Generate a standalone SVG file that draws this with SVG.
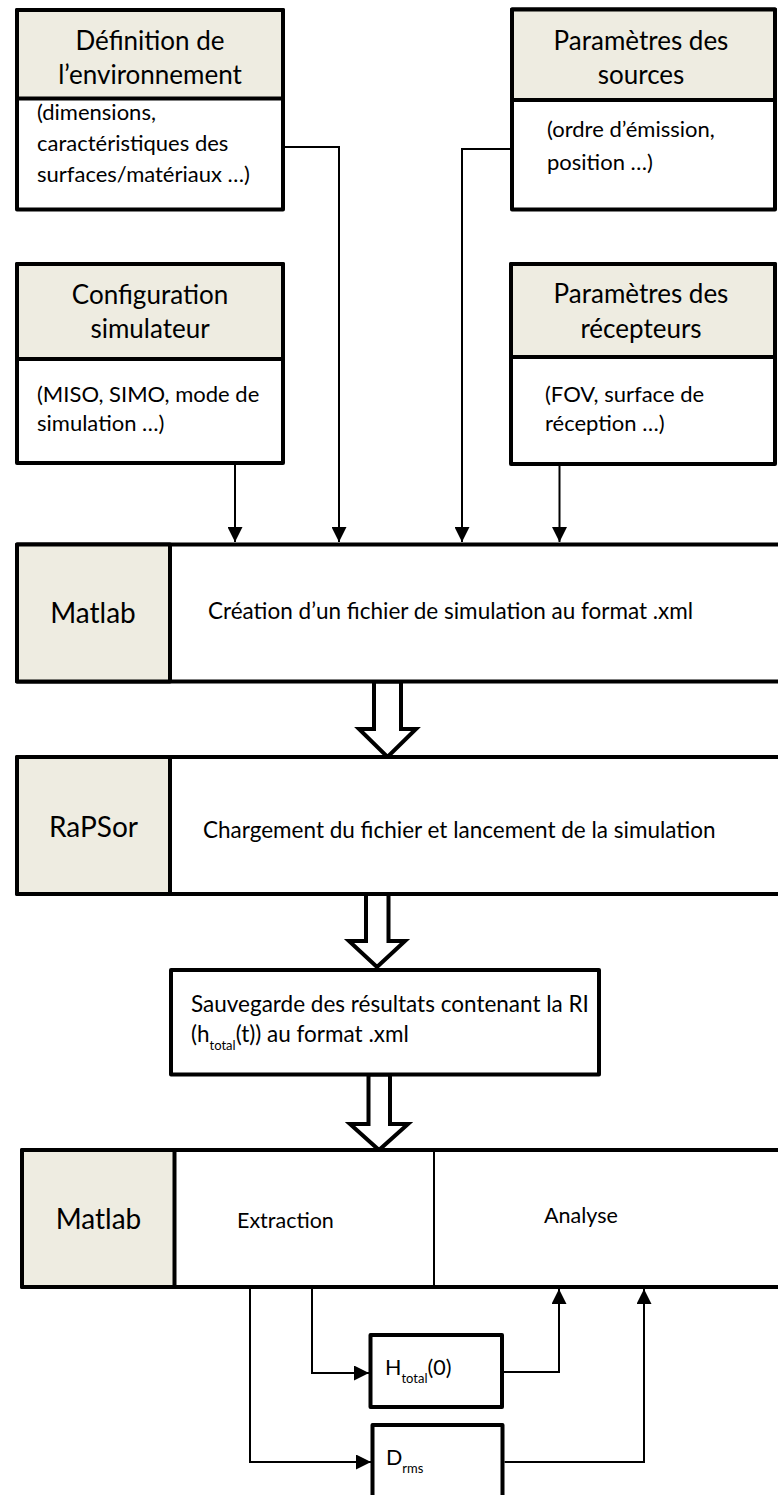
<svg xmlns="http://www.w3.org/2000/svg" width="778" height="1495" viewBox="0 0 778 1495">
<defs>
<style>
.box{fill:#fff;stroke:#000;stroke-width:4;stroke-linejoin:round}
.hdr{fill:#EEECE1;stroke:#000;stroke-width:4;stroke-linejoin:round}
.ln{fill:none;stroke:#000;stroke-width:2}
.hollow{fill:#fff;stroke:#000;stroke-width:4;stroke-linejoin:miter}
.div{stroke:#000;stroke-width:2}
text{font-family:Lato,"Liberation Sans",sans-serif;fill:#000}
.h{font-size:26px;text-anchor:middle}
.b{font-size:22px}
.m{font-size:22.5px}
.n{font-size:21.5px}
.t{font-size:28px;text-anchor:middle}
.s{font-size:13px}
</style>
<marker id="ar" viewBox="0 0 10 10" refX="10" refY="5" markerWidth="15" markerHeight="15" markerUnits="userSpaceOnUse" orient="auto">
<path d="M0,0 L10,5 L0,10 z" fill="#000"/>
</marker>
</defs>

<g id="connectors">
<path class="ln" d="M285,147 H339 V542" marker-end="url(#ar)"/>
<path class="ln" d="M510,149 H462 V542" marker-end="url(#ar)"/>
<path class="ln" d="M235,465 V542" marker-end="url(#ar)"/>
<path class="ln" d="M559.5,466 V542" marker-end="url(#ar)"/>
<polygon class="hollow" points="374,681.5 374,729 359,729 387.5,757 416,729 401,729 401,681.5"/>
<polygon class="hollow" points="366,894 366,941 349,941 377,967 405,941 388.5,941 388.5,894"/>
<polygon class="hollow" points="368.5,1074.5 368.5,1124 350,1124 379,1150 408,1124 390,1124 390,1074.5"/>
<path class="ln" d="M312,1289 V1373 H369" marker-end="url(#ar)"/>
<path class="ln" d="M250,1289 V1462 H371" marker-end="url(#ar)"/>
<path class="ln" d="M504,1372 H559 V1289" marker-end="url(#ar)"/>
<path class="ln" d="M504.5,1462 H644 V1289" marker-end="url(#ar)"/>
</g>

<g id="env">
<rect class="box" x="17" y="10" width="266" height="199.5"/>
<rect class="hdr" x="17" y="10" width="266" height="88.5"/>
<text class="h" x="150" y="50">Définition de</text>
<text class="h" x="150" y="84">l’environnement</text>
<text class="b" x="37" y="120">(dimensions,</text>
<text class="b" x="37" y="151">caractéristiques des</text>
<text class="b" x="37" y="182">surfaces/matériaux …)</text>
</g>

<g id="sources">
<rect class="box" x="512" y="9.5" width="263" height="200"/>
<rect class="hdr" x="512" y="9.5" width="263" height="90.5"/>
<text class="h" x="641" y="50">Paramètres des</text>
<text class="h" x="641" y="84">sources</text>
<text class="b" x="547" y="137">(ordre d’émission,</text>
<text class="b" x="547" y="170">position …)</text>
</g>

<g id="config">
<rect class="box" x="17" y="264" width="266" height="199"/>
<rect class="hdr" x="17" y="264" width="266" height="95"/>
<text class="h" x="150" y="304">Configuration</text>
<text class="h" x="150" y="338">simulateur</text>
<text class="b" x="37" y="402">(MISO, SIMO, mode de</text>
<text class="b" x="37" y="431">simulation …)</text>
</g>

<g id="recepteurs">
<rect class="box" x="511" y="264" width="264" height="200"/>
<rect class="hdr" x="511" y="264" width="264" height="93"/>
<text class="h" x="641" y="303">Paramètres des</text>
<text class="h" x="641" y="338">récepteurs</text>
<text class="b" x="545" y="402">(FOV, surface de</text>
<text class="b" x="545" y="431">réception …)</text>
</g>

<g id="matlab1">
<rect class="box" x="17" y="544.5" width="800" height="137"/>
<rect class="hdr" x="17" y="544.5" width="153" height="137"/>
<text class="t" x="93" y="623">Matlab</text>
<text class="m" x="208" y="619">Création d’un fichier de simulation au format .xml</text>
</g>

<g id="rapsor">
<rect class="box" x="17" y="757" width="800" height="137"/>
<rect class="hdr" x="17" y="757" width="153" height="137"/>
<text class="t" x="93.5" y="837">RaPSor</text>
<text class="m" x="203" y="838">Chargement du fichier et lancement de la simulation</text>
</g>

<g id="sauvegarde">
<rect class="box" x="171" y="970" width="428" height="104.5"/>
<text class="m" x="191" y="1012">Sauvegarde des résultats contenant la RI</text>
<text class="m" x="191" y="1042">(h<tspan class="s" dy="8">total</tspan><tspan dy="-8">(t)) au format .xml</tspan></text>
</g>

<g id="matlab2">
<rect class="box" x="22" y="1150" width="800" height="137"/>
<rect class="hdr" x="22" y="1150" width="152.5" height="137"/>
<line class="div" x1="434" y1="1150" x2="434" y2="1287"/>
<text class="t" x="98.5" y="1229">Matlab</text>
<text class="n" x="237" y="1228">Extraction</text>
<text class="n" x="544" y="1223">Analyse</text>
</g>

<g id="htotal">
<rect class="box" x="370.5" y="1335" width="131.5" height="72"/>
<text class="n" x="385" y="1375">H<tspan class="s" dy="8">total</tspan><tspan dy="-8">(0)</tspan></text>
</g>

<g id="drms">
<rect class="box" x="372.5" y="1425" width="130" height="90"/>
<text class="n" x="386" y="1465">D<tspan class="s" dy="8">rms</tspan></text>
</g>
</svg>
